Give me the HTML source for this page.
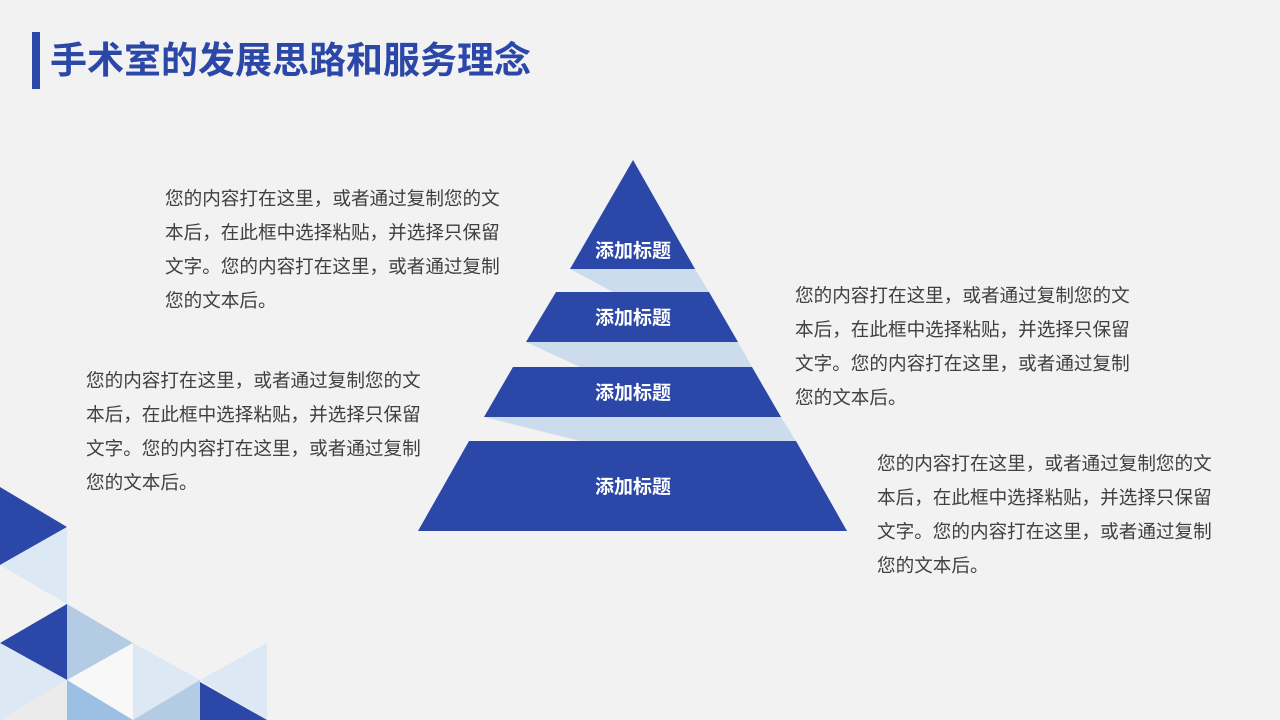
<!DOCTYPE html>
<html><head><meta charset="utf-8"><style>
body{margin:0;width:1280px;height:720px;background:#f2f2f2;overflow:hidden;position:relative;font-family:"Liberation Sans","Noto Sans CJK SC",sans-serif}
.bar{position:absolute;left:32px;top:32px;width:8px;height:57px;background:#2b47a8}
.title{position:absolute;left:50px;top:39px;font-size:37px;font-weight:bold;color:#2b47a8;line-height:44px;white-space:nowrap}
.p{position:absolute;font-size:18.6px;line-height:34px;color:#404040;white-space:nowrap}
svg{position:absolute;left:0;top:0}
</style></head><body>
<svg width="1280" height="720">
<g>
<polygon points="0,487 67,527 0,565" fill="#2b47a8"/>
<polygon points="0,565 67,527 67,604" fill="#dde8f5"/>
<polygon points="0,643 67,604 67,680" fill="#2b47a8"/>
<polygon points="67,604 133,643 67,680" fill="#b4cbe4"/>
<polygon points="0,643 67,680 0,720" fill="#dde8f5"/>
<polygon points="0,720 67,680 67,720" fill="#ebebeb"/>
<polygon points="67,680 133,643 133,720" fill="#f8f8f8"/>
<polygon points="67,680 133,720 67,720" fill="#9cc0e4"/>
<polygon points="133,643 200,680 133,720" fill="#dde8f5"/>
<polygon points="133,720 200,680 200,720" fill="#b4cbe4"/>
<polygon points="200,680 267,643 267,720" fill="#dde8f5"/>
<polygon points="200,682 267,720 200,720" fill="#2b47a8"/>
</g>
<polygon points="570,269 695,269 709,292 613,292" fill="#cddcec"/>
<polygon points="526,342 738,342 752,367 580,367" fill="#cddcec"/>
<polygon points="484,417 781,417 796,441 580,441" fill="#cddcec"/>
<polygon points="633,160 695,269 570,269" fill="#2b47a8"/>
<polygon points="556,292 709,292 738,342 526,342" fill="#2b47a8"/>
<polygon points="513,367 752,367 781,417 484,417" fill="#2b47a8"/>
<polygon points="469,441 796,441 847,531 418,531" fill="#2b47a8"/>
<g fill="#fff" font-size="19" font-weight="bold" text-anchor="middle" font-family="Liberation Sans,Noto Sans CJK SC,sans-serif">
<text x="633" y="257">添加标题</text>
<text x="633" y="324">添加标题</text>
<text x="633" y="399">添加标题</text>
<text x="633" y="493">添加标题</text>
</g>
</svg>
<div class="bar"></div>
<div class="title">手术室的发展思路和服务理念</div>
<div class="p" style="left:165px;top:182px">您的内容打在这里，或者通过复制您的文<br>本后，在此框中选择粘贴，并选择只保留<br>文字。您的内容打在这里，或者通过复制<br>您的文本后。</div>
<div class="p" style="left:86px;top:364px">您的内容打在这里，或者通过复制您的文<br>本后，在此框中选择粘贴，并选择只保留<br>文字。您的内容打在这里，或者通过复制<br>您的文本后。</div>
<div class="p" style="left:795px;top:279px">您的内容打在这里，或者通过复制您的文<br>本后，在此框中选择粘贴，并选择只保留<br>文字。您的内容打在这里，或者通过复制<br>您的文本后。</div>
<div class="p" style="left:877px;top:447px">您的内容打在这里，或者通过复制您的文<br>本后，在此框中选择粘贴，并选择只保留<br>文字。您的内容打在这里，或者通过复制<br>您的文本后。</div>
</body></html>
